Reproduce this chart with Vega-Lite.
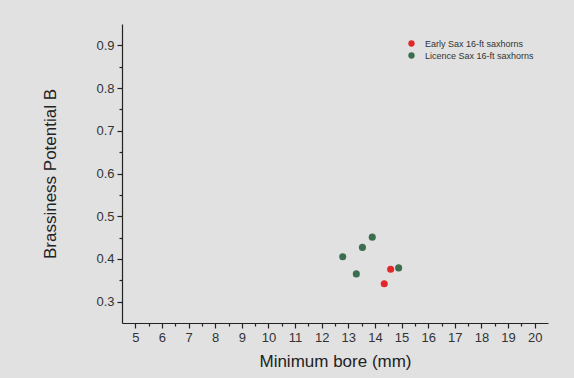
{
  "$schema": "https://vega.github.io/schema/vega-lite/v6.json",
  "width": 426,
  "height": 299,
  "autosize": {"type": "none"},
  "padding": {"left": 122, "top": 24, "right": 26, "bottom": 55},
  "background": "#e1e1e1",
  "config": {
    "view": {"stroke": null},
    "font": "Liberation Sans",
    "axis": {"grid": false, "domainColor": "#222222", "tickColor": "#222222", "labelColor": "#333333", "titleColor": "#222222", "domainWidth": 1.2, "tickWidth": 1.2, "titleFontWeight": "normal", "labelFont": "Liberation Sans", "titleFont": "Liberation Sans"}
  },
  "data": {
    "values": [
      {"bore": 12.79, "B": 0.405, "group": "Licence Sax 16-ft saxhorns"},
      {"bore": 13.53, "B": 0.427, "group": "Licence Sax 16-ft saxhorns"},
      {"bore": 13.90, "B": 0.451, "group": "Licence Sax 16-ft saxhorns"},
      {"bore": 13.30, "B": 0.365, "group": "Licence Sax 16-ft saxhorns"},
      {"bore": 14.89, "B": 0.379, "group": "Licence Sax 16-ft saxhorns"},
      {"bore": 14.59, "B": 0.376, "group": "Early Sax 16-ft saxhorns"},
      {"bore": 14.35, "B": 0.342, "group": "Early Sax 16-ft saxhorns"}
    ]
  },
  "mark": {"type": "circle", "size": 50, "opacity": 1},
  "encoding": {
    "x": {
      "field": "bore", "type": "quantitative",
      "scale": {"domain": [4.5, 20.5], "nice": false, "zero": false},
      "axis": {
        "title": "Minimum bore (mm)", "titleFontSize": 17, "titlePadding": 9,
        "values": [5, 5.5, 6, 6.5, 7, 7.5, 8, 8.5, 9, 9.5, 10, 10.5, 11, 11.5, 12, 12.5, 13, 13.5, 14, 14.5, 15, 15.5, 16, 16.5, 17, 17.5, 18, 18.5, 19, 19.5, 20],
        "labelExpr": "datum.value % 1 === 0 ? format(datum.value, 'd') : ''",
        "tickSize": {"condition": {"test": "datum.value % 1 === 0", "value": 5}, "value": 3},
        "labelFontSize": 13, "labelPadding": 3, "labelFlush": false
      }
    },
    "y": {
      "field": "B", "type": "quantitative",
      "scale": {"domain": [0.25, 0.95], "nice": false, "zero": false},
      "axis": {
        "title": "Brassiness Potential B", "titleFontSize": 17, "titlePadding": 36,
        "values": [0.3, 0.35, 0.4, 0.45, 0.5, 0.55, 0.6, 0.65, 0.7, 0.75, 0.8, 0.85, 0.9],
        "labelExpr": "abs(datum.value*10 - round(datum.value*10)) < 0.001 ? format(datum.value, '.1f') : ''",
        "tickSize": {"condition": {"test": "abs(datum.value*10 - round(datum.value*10)) < 0.001", "value": 5}, "value": 3},
        "labelFontSize": 13, "labelPadding": 3, "labelFlush": false
      }
    },
    "color": {
      "field": "group", "type": "nominal",
      "scale": {"domain": ["Early Sax 16-ft saxhorns", "Licence Sax 16-ft saxhorns"], "range": ["#e3262a", "#3b6d4f"]},
      "legend": {"title": null, "orient": "none", "legendX": 285, "legendY": 15, "labelFontSize": 9, "labelColor": "#333333", "symbolSize": 40, "symbolType": "circle", "rowPadding": 2, "labelOffset": 9}
    }
  }
}
